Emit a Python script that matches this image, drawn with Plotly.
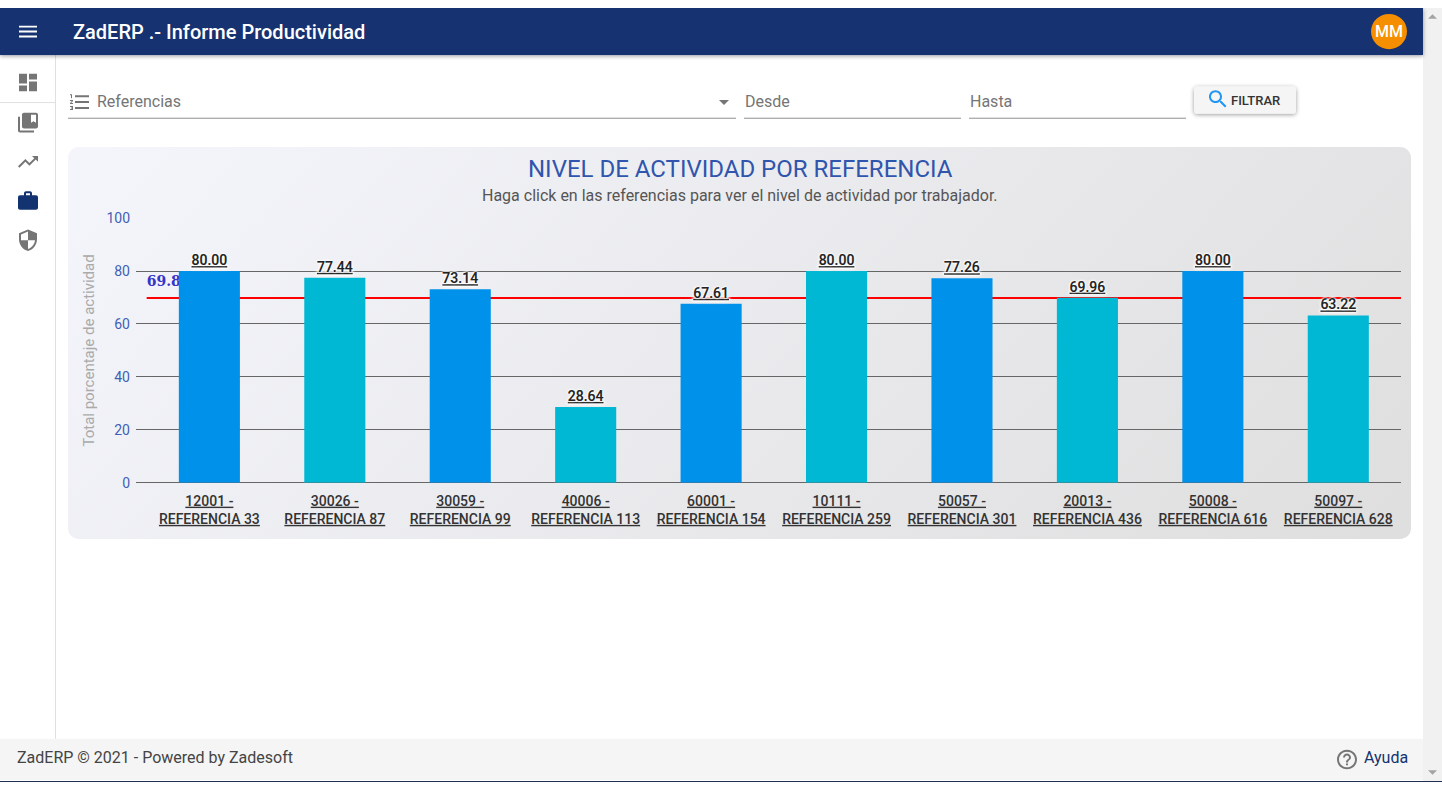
import base64
import plotly.graph_objects as go

# chart data
codes = ["12001", "30026", "30059", "40006", "60001", "10111", "50057", "20013", "50008", "50097"]
names = ["REFERENCIA 33", "REFERENCIA 87", "REFERENCIA 99", "REFERENCIA 113", "REFERENCIA 154",
         "REFERENCIA 259", "REFERENCIA 301", "REFERENCIA 436", "REFERENCIA 616", "REFERENCIA 628"]
activity = [80.00, 77.44, 73.14, 28.64, 67.61, 80.00, 77.26, 69.96, 80.00, 63.22]
average = 69.83
y_ticks = [0, 20, 40, 60, 80, 100]
bar_colors = ["#0091EA", "#00B8D4"] * 5

W, H = 1442, 790
NAVY = "#133370"
GREY = "#757575"
FONT = "Roboto"


def icon(path, x, y, fill, size=24):
    s = size / 24
    return f'<path transform="translate({x} {y}) scale({s})" d="{path}" fill="{fill}"/>'


MENU = "M3 18h18v-2H3v2zm0-5h18v-2H3v2zm0-7v2h18V6H3z"
DASH = "M3 13h8V3H3v10zm0 8h8v-6H3v6zm10 0h8V11h-8v10zm0-18v6h8V3h-8z"
BOOKS = "M4 6H2v14c0 1.1.9 2 2 2h14v-2H4V6zm16-4H8c-1.1 0-2 .9-2 2v12c0 1.1.9 2 2 2h12c1.1 0 2-.9 2-2V4c0-1.1-.9-2-2-2zm0 10l-2.5-1.5L15 12V4h5v8z"
TREND = "M16 6l2.29 2.29-4.88 4.88-4-4L2 16.59 3.41 18l6-6 4 4 6.3-6.29L22 12V6z"
WORK = "M20 6h-4V4c0-1.11-.89-2-2-2h-4c-1.11 0-2 .89-2 2v2H4c-1.11 0-1.99.89-1.99 2L2 19c0 1.11.89 2 2 2h16c1.11 0 2-.89 2-2V8c0-1.11-.89-2-2-2zm-6 0h-4V4h4v2z"
SHIELD = "M12 1L3 5v6c0 5.55 3.84 10.74 9 12 5.16-1.26 9-6.45 9-12V5l-9-4zm0 10.99h7c-.53 4.12-3.28 7.79-7 8.94V12H5V6.3l7-3.11v8.8z"
NUMLIST = "M2 17h2v.5H3v1h1v.5H2v1h3v-4H2v1zm1-9h1V4H2v1h1v3zm-1 3h1.8L2 13.1v.9h3v-1H3.2L5 10.9V10H2v1zm5-6v2h14V5H7zm0 14h14v-2H7v2zm0-6h14v-2H7v2z"
SEARCH = "M15.5 14h-.79l-.28-.27C15.41 12.59 16 11.11 16 9.5 16 5.91 13.09 3 9.5 3S3 5.91 3 9.5 5.91 16 9.5 16c1.61 0 3.09-.59 4.23-1.57l.27.28v.79l5 4.99L20.49 19l-4.99-5zm-6 0C7.01 14 5 11.99 5 9.5S7.01 5 9.5 5 14 7.01 14 9.5 11.99 14 9.5 14z"
HELP = "M11 18h2v-2h-2v2zm1-16C6.48 2 2 6.48 2 12s4.48 10 10 10 10-4.48 10-10S17.52 2 12 2zm0 18c-4.41 0-8-3.59-8-8s3.59-8 8-8 8 3.59 8 8-3.59 8-8 8zm0-14c-2.21 0-4 1.79-4 4h2c0-1.1.9-2 2-2s2 .9 2 2c0 2-3 1.75-3 5h2c0-2.25 3-2.5 3-5 0-2.21-1.79-4-4-4z"

# page around the chart, drawn as one background picture
page = f'''<svg xmlns="http://www.w3.org/2000/svg" width="{W}" height="{H}" viewBox="0 0 {W} {H}">
<defs>
<linearGradient id="card" gradientUnits="userSpaceOnUse" x1="300" y1="-60" x2="1180" y2="745">
<stop offset="0" stop-color="#f4f5fb"/><stop offset="1" stop-color="#dfdfdf"/></linearGradient>
<filter id="sh" x="-5%" y="-30%" width="110%" height="170%"><feDropShadow dx="0" dy="1" stdDeviation="2" flood-color="#000" flood-opacity="0.4"/></filter>
</defs>
<rect width="{W}" height="{H}" fill="#fff"/>
<rect x="1423" width="19" height="{H}" fill="#f1f1f1"/>
<path d="M1428 11h9l-4.500 -4.500z" fill="#a3a3a3"/>
<path d="M1428 778h9l-4.500 4.500z" fill="#a3a3a3"/>
<rect x="55" y="48" width="1" height="698" fill="#e0e0e0"/>
<rect y="96" width="55" height="1" fill="#e0e0e0"/>
<rect width="1423" height="48" fill="{NAVY}" filter="url(#sh)"/>
<circle cx="1389" cy="24" r="18" fill="#f68f00"/>
{icon(MENU, 16, 12, "#fff")}
{icon(DASH, 16, 64, GREY)}
{icon(BOOKS, 16, 105, GREY)}
{icon(TREND, 16, 145, GREY)}
{icon(WORK, 16, 185, NAVY)}
{icon(SHIELD, 16, 225, GREY)}
{icon(NUMLIST, 68, 84, GREY)}
<rect x="68" y="112" width="668" height="1" fill="#8e8e8e"/>
<rect x="744" y="112" width="217" height="1" fill="#8e8e8e"/>
<rect x="969" y="112" width="217" height="1" fill="#8e8e8e"/>
<path d="M719 94h10l-5 5z" fill="{GREY}"/>
<rect x="1194" y="80" width="102" height="28" rx="4" fill="#f5f5f5" filter="url(#sh)"/>
{icon(SEARCH, 1206, 81, "#2196f3")}
<rect x="68" y="142" width="1343" height="400" rx="11" fill="url(#card)"/>
<rect y="746" width="1423" height="42" fill="#f5f5f5"/>
<rect y="789" width="{W}" height="1" fill="#1c2b4a"/>
{icon(HELP, 1335, 755, GREY)}
</svg>'''
page_src = "data:image/svg+xml;base64," + base64.b64encode(page.encode()).decode()

tick_text = [f"<u>{c} -</u><br><u>{n}</u>" for c, n in zip(codes, names)]

fig = go.Figure(go.Bar(
    x=codes,
    y=activity,
    marker_color=bar_colors,
    marker_line_width=0,
    text=[f"<u>{v:.2f}</u>" for v in activity],
    textposition="outside",
    cliponaxis=False,
    textfont=dict(family=FONT, size=14, color="#222222", weight=500, shadow="0 0 3px #fff, 0 0 2px #fff"),
    hoverinfo="skip",
))

fig.add_shape(
    type="line", xref="x", yref="y", layer="between",
    x0=-0.5, x1=9.5, y0=average, y1=average,
    line=dict(color="#ff0000", width=2),
    label=dict(text=f"{average:.2f}", textposition="start", xanchor="left", yanchor="bottom", padding=10,
               font=dict(family="DejaVu Serif", size=14, color="#3535c8", weight=700)),
)


def label(text, x, y, size, color, anchor="left", weight=400):
    fig.add_annotation(
        text=text, xref="paper", yref="paper", x=x / W, y=1 - y / H,
        xanchor=anchor, yanchor="middle", showarrow=False, borderpad=0,
        font=dict(family=FONT, size=size, color=color, weight=weight),
    )


label("ZadERP .- Informe Productividad", 72, 24, 20, "#ffffff", weight=500)
label("MM", 1389, 24, 16, "#ffffff", "center", 500)
label("Referencias", 96, 95, 16, "#757575")
label("Desde", 744, 95, 16, "#757575")
label("Hasta", 969, 95, 16, "#757575")
label("FILTRAR", 1230, 94, 13, "#333333", weight=500)
label("NIVEL DE ACTIVIDAD POR REFERENCIA", 740, 164, 24, "#2f55ad", "center")
label("Haga click en las referencias para ver el nivel de actividad por trabajador.", 740, 191, 16, "#555555", "center")
label("ZadERP © 2021 - Powered by Zadesoft", 16, 765, 16, "#444444")
label("Ayuda", 1363, 765, 16, NAVY)

fig.update_layout(
    width=W, height=H, margin=dict(l=0, r=0, t=0, b=0),
    paper_bgcolor="#ffffff", plot_bgcolor="rgba(0,0,0,0)",
    showlegend=False, bargap=0.513, hovermode=False,
    font=dict(family=FONT),
    images=[dict(source=page_src, xref="paper", yref="paper", x=0, y=1, sizex=1, sizey=1,
                 sizing="stretch", xanchor="left", yanchor="top", layer="below")],
    xaxis=dict(
        domain=[136 / W, 1401 / W], type="category", range=[-0.585, 9.5],
        tickmode="array", tickvals=codes, ticktext=tick_text,
        tickfont=dict(family=FONT, size=14, color="#333333", weight=500),
        ticks="", ticklabelstandoff=8, showgrid=False, showline=False, tickangle=0,
    ),
    yaxis=dict(
        domain=[1 - 484.5 / H, 1 - 214.5 / H], range=[0, 100],
        tickvals=y_ticks, tickfont=dict(family=FONT, size=14, color="#3f5fb5"),
        gridcolor="#666666", gridwidth=1, zeroline=True, zerolinecolor="#666666", zerolinewidth=1,
        ticks="", ticklabelstandoff=5,
        title=dict(text="Total porcentaje de actividad", standoff=8, font=dict(family=FONT, size=15, color="#aaaaaa")),
    ),
)

fig.write_html("out.html", config=dict(displayModeBar=False),
               post_script='document.body.style.margin="0";document.body.style.overflow="hidden";')
